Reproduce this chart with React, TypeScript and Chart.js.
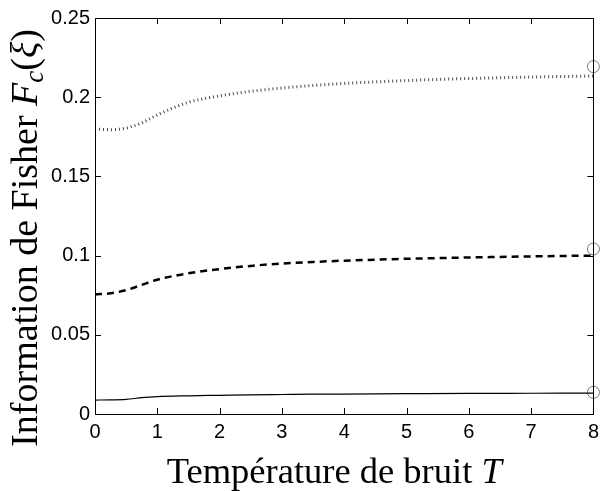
import React, { useEffect, useRef } from "react";
import { Chart, registerables } from "chart.js";
Chart.register(...registerables);

const temperatures = [0, 0.25, 0.5, 0.75, 1, 1.5, 2, 2.5, 3, 3.5, 4, 5, 6, 7, 8];
const dottedSeries = [0.18, 0.1795, 0.1805, 0.1838, 0.1888, 0.1968, 0.2008, 0.2037, 0.2058, 0.2074, 0.2087, 0.2105, 0.2118, 0.2127, 0.2134];
const dashedSeries = [0.0755, 0.0762, 0.0782, 0.0815, 0.0848, 0.0888, 0.0915, 0.0935, 0.095, 0.096, 0.0968, 0.098, 0.0988, 0.0995, 0.1];
const solidSeries = [0.0088, 0.0089, 0.0092, 0.0103, 0.011, 0.0115, 0.0118, 0.0121, 0.0123, 0.0125, 0.0126, 0.0128, 0.013, 0.0131, 0.0132];
const limitT = [8, 8, 8];
const limitValues = [0.2193, 0.1042, 0.0137];
const xTickValues = [0, 1, 2, 3, 4, 5, 6, 7, 8];
const yTickValues = [0, 0.05, 0.1, 0.15, 0.2, 0.25];
const yTickLabels = ["0", "0.05", "0.1", "0.15", "0.2", "0.25"];
const xTitleText = "Température de bruit ";
const xTitleVar = "T";
const yTitleText = "Information de Fisher ";

const SERIF = "'Liberation Serif', 'DejaVu Serif', serif";
const SANS = "'Liberation Sans', Arial, sans-serif";

const frameAndTitles = {
  id: "frameAndTitles",
  afterDatasetsDraw(chart: any) {
    const { ctx, chartArea: a, scales } = chart;
    const xs = scales.x;
    const ys = scales.y;
    ctx.save();
    ctx.strokeStyle = "#000";
    ctx.lineWidth = 1;
    ctx.strokeRect(Math.round(a.left) + 0.5, Math.round(a.top) + 0.5, Math.round(a.right - a.left), Math.round(a.bottom - a.top));
    const tl = 6;
    ctx.beginPath();
    xTickValues.forEach((v) => {
      const px = Math.round(xs.getPixelForValue(v)) + 0.5;
      ctx.moveTo(px, a.bottom);
      ctx.lineTo(px, a.bottom - tl);
      ctx.moveTo(px, a.top);
      ctx.lineTo(px, a.top + tl);
    });
    yTickValues.forEach((v) => {
      const py = Math.round(ys.getPixelForValue(v)) + 0.5;
      ctx.moveTo(a.left, py);
      ctx.lineTo(a.left + tl, py);
      ctx.moveTo(a.right, py);
      ctx.lineTo(a.right - tl, py);
    });
    ctx.stroke();

    // X title
    ctx.fillStyle = "#000";
    ctx.textBaseline = "alphabetic";
    const fs = 36.5;
    const regular = `${fs}px ${SERIF}`;
    const italic = `italic ${fs}px ${SERIF}`;
    ctx.font = regular;
    const w1 = ctx.measureText(xTitleText).width;
    ctx.font = italic;
    const w2 = ctx.measureText(xTitleVar).width;
    const cx = (a.left + a.right) / 2 - 10;
    const x0 = cx - (w1 + w2) / 2;
    ctx.font = regular;
    ctx.fillText(xTitleText, x0, 483);
    ctx.font = italic;
    ctx.fillText(xTitleVar, x0 + w1, 483);

    // Y title (rotated)
    const fy = 38;
    const yReg = `${fy}px ${SERIF}`;
    const yIt = `italic ${fy}px ${SERIF}`;
    const sub = `italic ${Math.round(fy * 0.7)}px ${SERIF}`;
    const parts = [
      { t: yTitleText, f: yReg, dy: 0 },
      { t: "F", f: yIt, dy: 0 },
      { t: "c", f: sub, dy: 6 },
      { t: "(", f: yReg, dy: 0 },
      { t: "ξ", f: yIt, dy: 0 },
      { t: ")", f: yReg, dy: 0 },
    ];
    let total = 0;
    const widths = parts.map((p) => {
      ctx.font = p.f;
      const w = ctx.measureText(p.t).width;
      total += w;
      return w;
    });
    const cy = (a.top + a.bottom) / 2 + 22;
    ctx.translate(37, cy);
    ctx.rotate(-Math.PI / 2);
    let px = -total / 2;
    parts.forEach((p, i) => {
      ctx.font = p.f;
      ctx.fillText(p.t, px, p.dy);
      px += widths[i];
    });
    ctx.restore();
  },
};

export default function App() {
  const ref = useRef<HTMLCanvasElement | null>(null);
  useEffect(() => {
    if (!ref.current) return;
    const pts = (ys: number[]) => temperatures.map((t, i) => ({ x: t, y: ys[i] }));
    const chart = new Chart(ref.current, {
      type: "line",
      data: {
        datasets: [
          {
            data: pts(dottedSeries),
            borderColor: "rgba(40,40,40,0.85)",
            borderWidth: 3,
            borderDash: [1, 3],
            borderCapStyle: "butt",
            pointRadius: 0,
            cubicInterpolationMode: "monotone",
          },
          {
            data: pts(dashedSeries),
            borderColor: "#000",
            borderWidth: 2.5,
            borderDash: [7, 5],
            pointRadius: 0,
            cubicInterpolationMode: "monotone",
          },
          {
            data: pts(solidSeries),
            borderColor: "#000",
            borderWidth: 1.2,
            pointRadius: 0,
            cubicInterpolationMode: "monotone",
          },
          {
            data: limitT.map((t, i) => ({ x: t, y: limitValues[i] })),
            showLine: false,
            pointRadius: 6,
            pointBorderWidth: 1,
            pointBorderColor: "#777",
            pointBackgroundColor: "rgba(0,0,0,0)",
            clip: false as any,
          },
        ],
      },
      options: {
        responsive: false,
        animation: false,
        devicePixelRatio: 1,
        layout: { padding: { left: 0, right: 7, top: 18, bottom: 0 } },
        plugins: { legend: { display: false }, tooltip: { enabled: false } },
        scales: {
          x: {
            type: "linear",
            min: 0,
            max: 8,
            afterBuildTicks: (s: any) => {
              s.ticks = xTickValues.map((v) => ({ value: v }));
            },
            afterFit: (s: any) => {
              s.height = 77;
            },
            grid: { display: false, drawTicks: false },
            border: { display: false },
            ticks: { color: "#000", font: { family: SANS, size: 20 }, padding: 6, maxRotation: 0 },
          },
          y: {
            type: "linear",
            min: 0,
            max: 0.25,
            afterBuildTicks: (s: any) => {
              s.ticks = yTickValues.map((v) => ({ value: v }));
            },
            afterFit: (s: any) => {
              s.width = 95;
            },
            grid: { display: false, drawTicks: false },
            border: { display: false },
            ticks: {
              color: "#000",
              font: { family: SANS, size: 20 },
              padding: 5,
              callback: (v: any) => {
                const i = yTickValues.findIndex((t) => Math.abs(t - v) < 1e-9);
                return i >= 0 ? yTickLabels[i] : "";
              },
            },
          },
        },
      },
      plugins: [frameAndTitles],
    });
    return () => chart.destroy();
  }, []);
  return (
    <div style={{ position: "absolute", left: 0, top: 0, width: 605, height: 491, background: "#fff" }}>
      <canvas ref={ref} width={605} height={491} style={{ display: "block" }} />
    </div>
  );
}
